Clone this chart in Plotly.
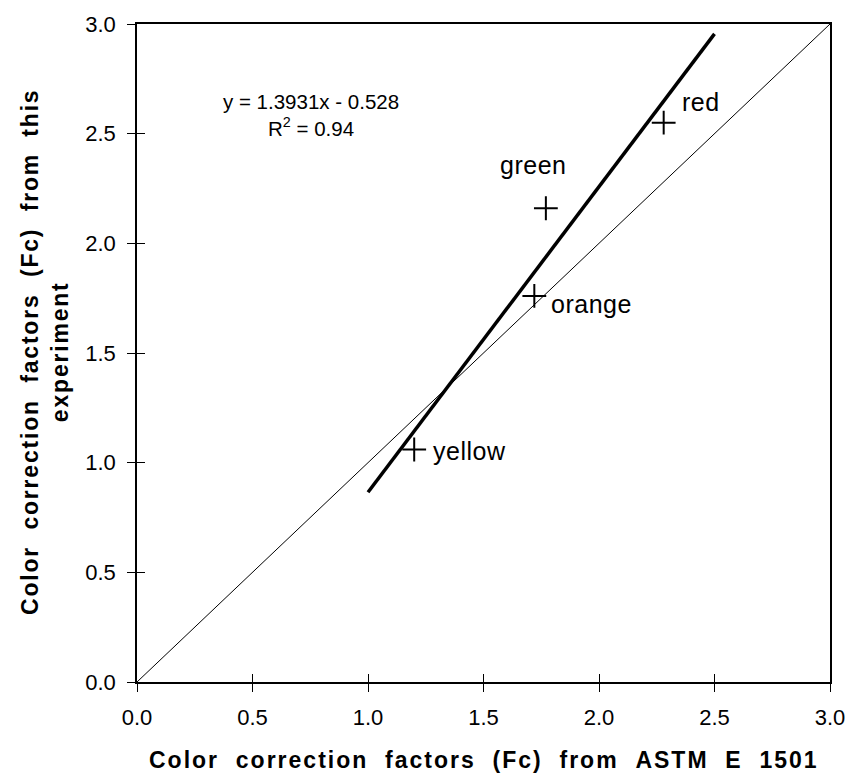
import plotly.graph_objects as go

# Measured colour correction factors
colors = ["yellow", "orange", "green", "red"]
fc_astm = [1.20, 1.72, 1.77, 2.28]
fc_exp = [1.06, 1.76, 2.16, 2.55]

# Linear fit reported on the chart
slope = 1.3931
intercept = -0.528
r_squared = 0.94
fit_x = [1.0, 2.5]
fit_y = [slope * x + intercept for x in fit_x]

# 1:1 reference line
ref_x = [0.0, 3.0]
ref_y = [0.0, 3.0]

tick_vals = [0.0, 0.5, 1.0, 1.5, 2.0, 2.5, 3.0]
tick_text = ["0.0", "0.5", "1.0", "1.5", "2.0", "2.5", "3.0"]

x_title = "Color correction factors (Fc) from ASTM E 1501"
y_title = ["Color correction factors (Fc) from this", "experiment"]

FONT = "Liberation Sans, Arial, sans-serif"
GAP = "\u00a0\u00a0"


def tracked(text, spacing):
    """Bold text with widened letter and word spacing."""
    return (f'<span style="letter-spacing:{spacing}px"><b>'
            + text.replace(" ", GAP) + "</b></span>")


fig = go.Figure()

fig.add_trace(go.Scatter(x=ref_x, y=ref_y, mode="lines",
                         line=dict(color="black", width=1), showlegend=False))
fig.add_trace(go.Scatter(x=fit_x, y=fit_y, mode="lines",
                         line=dict(color="black", width=3.5), showlegend=False))
fig.add_trace(go.Scatter(x=fc_astm, y=fc_exp, mode="markers",
                         marker=dict(symbol="cross-thin", size=17,
                                     line=dict(color="black", width=2)),
                         showlegend=False))

# Point labels
label_pos = {
    "yellow": dict(xshift=17, yshift=-1, xanchor="left", yanchor="middle"),
    "orange": dict(xshift=15, yshift=-8, xanchor="left", yanchor="middle"),
    "green": dict(xshift=-13, yshift=43, xanchor="center", yanchor="middle"),
    "red": dict(xshift=16, yshift=21, xanchor="left", yanchor="middle"),
}
for name, x, y in zip(colors, fc_astm, fc_exp):
    fig.add_annotation(x=x, y=y, showarrow=False,
                       text=f'<span style="letter-spacing:0.5px">{name}</span>',
                       font=dict(family=FONT, size=25, color="black"),
                       **label_pos[name])

fig.add_annotation(x=0.752, y=2.585, xref="x", yref="y", showarrow=False,
                   text=f"y = {slope}x - {abs(intercept)}<br>R<sup>2</sup> = {r_squared}",
                   align="center", font=dict(family=FONT, size=20.5, color="black"))

# Axis titles
fig.add_annotation(x=0.5, y=0, xref="paper", yref="paper", yshift=-78,
                   xanchor="center", yanchor="middle", showarrow=False,
                   text=tracked(x_title, 2),
                   font=dict(family=FONT, size=23, color="black"))
fig.add_annotation(x=0, y=0.5015, xref="paper", yref="paper", xshift=-92,
                   xanchor="center", yanchor="middle", showarrow=False,
                   textangle=-90, align="center",
                   text=tracked(y_title[0], 1.8) + "<br>" + tracked(y_title[1], 1.8),
                   font=dict(family=FONT, size=23, color="black"))

axis_common = dict(range=[0, 3], tickvals=tick_vals, ticktext=tick_text,
                   showgrid=False, zeroline=False, showline=True,
                   linecolor="black", linewidth=1.5, ticks="outside",
                   ticklen=8, tickwidth=1, tickcolor="black", mirror=True,
                   tickfont=dict(family=FONT, size=22, color="black"))

fig.update_layout(
    width=857, height=780,
    margin=dict(l=137, r=22, t=18, b=98),
    paper_bgcolor="white", plot_bgcolor="white",
    xaxis=dict(**axis_common, ticklabelstandoff=7),
    yaxis=dict(**axis_common, ticklabelstandoff=7),
    # overlaid axes supply the inner half of the crossing ticks
    xaxis2=dict(range=[0, 3], tickvals=tick_vals, showticklabels=False,
                showgrid=False, zeroline=False, ticks="inside", ticklen=8,
                tickcolor="black", overlaying="x", anchor="y"),
    yaxis2=dict(range=[0, 3], tickvals=tick_vals, showticklabels=False,
                showgrid=False, zeroline=False, ticks="inside", ticklen=8,
                tickcolor="black", overlaying="y", anchor="x"),
)

# invisible trace to activate the overlaid axes
fig.add_trace(go.Scatter(x=[None], y=[None], xaxis="x2", yaxis="y2",
                         showlegend=False, hoverinfo="skip"))

fig.write_html("out.html")
